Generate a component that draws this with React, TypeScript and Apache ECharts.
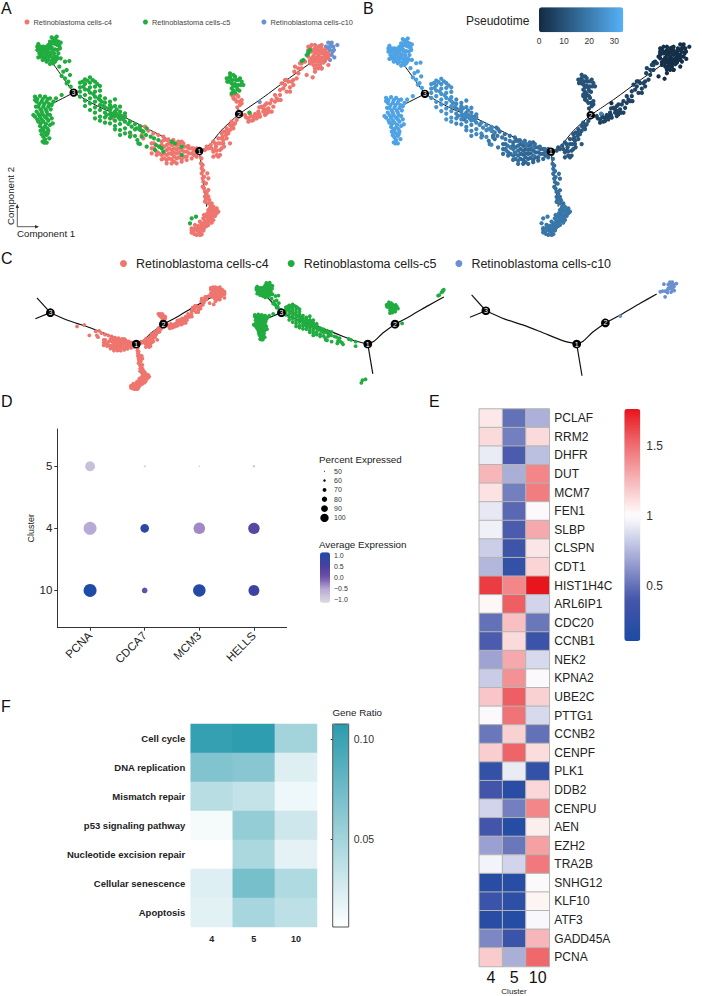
import React, { useEffect, useRef } from "react";
import * as echarts from "echarts";

const FONT = "Liberation Sans";
const C4 = "#EE766F";
const C5 = "#21AC40";
const C10 = "#6A90CF";
const NAME4 = "Retinoblastoma cells-c4";
const NAME5 = "Retinoblastoma cells-c5";
const NAME10 = "Retinoblastoma cells-c10";

// Trajectory cells, component coordinates
const c5TopLeft = [[115,132],[122,140],[112,150],[118,160],[128,150],[135,143],[145,135],[150,125],[160,120],[170,110],[175,125],[165,132],[155,142],[143,150],[132,158],[122,170],[128,180],[140,185],[150,192],[160,190],[168,180],[158,175],[148,170],[138,170],[150,158],[162,160],[172,150],[178,138],[165,148],[182,128],[130,170],[115,172],[170,170],[140,160],[155,130],[125,162],[120,150],[130,140],[140,140],[150,135],[160,128],[168,122],[172,135],[158,150],[148,145],[138,150],[128,165],[135,178],[145,180],[155,183],[163,170],[175,160],[152,165],[142,168],[125,150],[118,145],[112,140],[165,185],[172,175],[180,145],[155,112],[165,115]];
const c5TopSpill = [[182,175],[195,185],[208,183],[178,200],[190,215],[200,210],[185,228],[195,235],[210,225],[205,245],[212,260],[200,250]];
const c5Left = [[105,290],[120,288],[135,290],[150,295],[160,305],[110,305],[125,305],[140,305],[155,315],[145,320],[130,320],[115,320],[110,335],[125,335],[140,335],[105,350],[120,350],[135,350],[150,345],[115,365],[130,365],[145,362],[120,378],[135,380],[150,375],[130,392],[145,392],[125,403],[140,405],[135,418],[133,428],[148,415],[168,295],[185,285],[158,370],[155,355],[108,320],[122,392],[112,297],[128,297],[143,297],[118,312],[133,312],[148,312],[122,328],[137,328],[152,328],[116,343],[128,343],[143,343],[112,358],[125,358],[140,355],[122,370],[138,372],[128,385],[142,385],[135,398],[130,410],[143,400],[128,425],[140,428],[100,345],[105,300]];
const c5DiagNear = [[240,248],[240,262],[240,275],[240,290],[255,238],[255,252],[255,268],[255,285],[255,302],[255,318],[270,232],[270,248],[270,262],[270,278],[270,295],[270,310],[270,330],[285,245],[285,260],[285,275],[285,290],[285,305],[285,322],[285,338],[285,355],[300,258],[300,272],[300,288],[300,300],[300,315],[300,330],[300,350],[300,362],[295,295],[280,282],[265,270],[250,260],[262,242],[278,240],[292,252],[248,245]];
const c5DiagFar = [[315,295],[315,308],[315,322],[315,338],[315,352],[315,368],[330,305],[330,315],[330,330],[330,342],[330,355],[330,370],[345,298],[345,318],[345,335],[345,348],[345,362],[345,378],[345,388],[360,320],[360,335],[360,345],[360,358],[360,372],[360,390],[360,405],[375,340],[375,350],[375,365],[375,385],[375,400],[390,365],[390,398],[390,410],[405,372],[405,388],[405,408],[420,378],[420,390],[420,432],[325,325],[335,322],[340,340],[350,342],[355,352],[365,350],[370,358],[335,350],[320,345],[310,318],[305,305],[350,328],[385,372],[395,380],[410,385],[425,392],[748,338]];
const c5Mixed = [[430,395],[438,405],[425,410],[440,385],[452,410],[462,415],[475,420],[468,435],[478,440],[465,450],[485,445],[490,455],[525,430],[545,440],[545,465],[515,425],[415,430],[440,440],[412,420]];
const c4Mixed = [[370,347],[338,355],[392,405],[420,382],[435,380],[445,392],[430,415],[425,405],[460,400],[475,405],[490,410],[505,418],[520,420],[535,425],[550,430],[565,438],[580,445],[455,430],[455,445],[455,460],[470,455],[470,465],[485,425],[485,435],[485,465],[485,478],[500,420],[500,435],[500,450],[500,465],[500,480],[500,490],[492,420],[492,440],[492,460],[492,475],[477,440],[477,460],[462,430],[462,445]];
const c4NearNode1 = [[515,435],[515,450],[515,462],[515,478],[515,490],[530,435],[530,448],[530,460],[530,475],[530,490],[545,425],[545,450],[545,478],[545,485],[560,440],[560,455],[560,470],[560,480],[575,445],[575,460],[575,475],[590,445],[590,458],[590,470],[507,430],[507,445],[507,460],[507,475],[522,432],[522,445],[522,458],[522,470],[522,485],[537,432],[537,445],[537,458],[537,472],[552,440],[552,455],[552,470],[567,445],[567,460],[582,452],[582,465]];
const c4Node12 = [[625,445],[640,425],[648,440],[655,415],[662,430],[640,455],[650,465],[660,450],[670,420],[678,405],[690,390],[700,375],[710,360],[665,400],[680,385],[695,365],[690,430],[672,440],[655,470],[635,445],[680,415],[700,385],[615,450],[645,450],[668,410],[632,435],[645,430],[655,430],[650,452],[665,445],[670,430],[640,470],[660,465],[620,440],[672,395],[685,400],[695,380],[705,370],[690,375],[715,350],[665,415],[680,395]];
const c4Upper = [[715,290],[700,295],[725,300],[710,305],[695,285],[720,315],[712,322],[705,298],[718,305],[702,285],[712,285],[725,310]];
const c5Upper = [[690,235],[680,235],[695,250],[708,240],[690,220],[710,260],[695,265],[715,255],[725,245],[700,272],[718,272],[730,255],[695,280],[705,230],[720,235],[705,252],[688,245],[698,240],[700,258],[712,268],[705,278],[690,230],[682,245],[722,255],[715,240],[700,225]];
const c4Node2Tip = [[735,345],[750,340],[745,355],[760,350],[770,345],[760,360],[775,335],[785,320],[790,335],[780,350],[800,310],[805,325],[815,300],[800,340],[820,320],[830,295],[815,335],[840,285],[850,265],[835,300],[860,275],[865,245],[855,240],[870,262],[880,255],[845,250],[890,235],[895,220],[885,200],[900,190],[905,205],[738,352],[752,348],[765,342],[778,342],[770,355],[790,325],[795,315],[810,310],[825,305],[808,335],[795,345],[825,285],[840,270],[855,255],[875,245],[860,240],[905,190],[915,185],[895,205],[883,215],[725,345],[745,365],[755,362],[798,330],[778,322],[842,300],[870,275],[880,240]];
const c4Tip = [[925,140],[935,135],[945,145],[955,150],[965,145],[975,150],[985,160],[935,155],[945,160],[955,165],[965,160],[975,165],[985,175],[925,170],[935,175],[945,178],[955,180],[965,178],[975,180],[940,195],[950,195],[960,195],[930,190],[945,205],[938,232],[965,205],[920,225],[932,150],[940,150],[950,155],[960,155],[970,155],[980,158],[940,168],[950,172],[960,172],[970,172],[980,172],[930,182],[940,185],[950,185],[960,187],[970,188],[985,168],[925,150],[945,135],[930,142],[955,140],[965,135],[955,205],[985,195],[945,215]];
const c5Tip = [[925,155],[930,150],[920,165],[910,180],[905,183],[925,160]];
const c10Tip = [[779,306],[960,138],[985,128],[995,128],[1000,140],[1012,135],[990,150],[1002,150],[985,160],[995,165],[1003,172],[975,170],[990,180],[975,183],[965,175],[955,175],[965,205],[945,178],[978,140],[993,135],[985,145],[990,140],[998,155],[978,160]];
const c4Bottom = [[603,490],[605,505],[608,495],[605,520],[612,530],[622,520],[610,545],[618,550],[625,535],[608,560],[615,575],[625,570],[615,590],[625,590],[635,610],[625,610],[615,605],[628,600],[618,598],[620,580],[612,565],[608,535],[604,475],[602,460],[610,512]];
const c4BottomEnd = [[645,628],[635,630],[625,630],[650,640],[640,645],[630,645],[620,650],[610,655],[640,660],[630,660],[620,665],[610,670],[600,665],[625,675],[615,680],[605,680],[595,678],[585,675],[575,685],[580,695],[590,690],[600,695],[610,692],[590,705],[605,703],[575,698],[650,625],[640,635],[630,638],[650,632],[645,648],[635,652],[625,655],[615,662],[605,672],[595,685],[585,685],[605,688],[615,672],[625,665],[635,668],[620,678],[600,705],[583,702],[640,620],[632,620],[630,625],[622,640],[612,645],[595,695],[612,685],[575,690],[655,635]];
const c5Bottom = [[575,655],[588,650],[570,670]];

// [cells, cluster, pseudotime]
const cellGroups: [number[][], string, number][] = [
  [c10Tip, NAME10, 1],
  [c4Tip, NAME4, 1],
  [c5Tip, NAME5, 2],
  [c4Node2Tip, NAME4, 6],
  [c4Upper, NAME4, 9],
  [c5Upper, NAME5, 10],
  [c4Node12, NAME4, 11],
  [c4NearNode1, NAME4, 15],
  [c4Mixed, NAME4, 17],
  [c5Mixed, NAME5, 19],
  [c5DiagFar, NAME5, 23],
  [c5DiagNear, NAME5, 26],
  [c5TopSpill, NAME5, 29],
  [c5TopLeft, NAME5, 30],
  [c5Left, NAME5, 30],
  [c4Bottom, NAME4, 17],
  [c4BottomEnd, NAME4, 19],
  [c5Bottom, NAME5, 20],
];

const trajectoryBranches = [
  [[221,278],[162,195]],
  [[221,278],[155,312]],
  [[221,278],[300,322],[380,355],[460,395],[540,435],[598,453]],
  [[598,453],[625,438],[665,390],[717,342]],
  [[717,342],[712,320]],
  [[717,342],[790,292],[860,240],[930,190]],
  [[598,453],[620,620]],
];
const stateNodes = [[598,453,"1"],[717,342,"2"],[221,278,"3"]];

// Panel D
const dotGenes = ["PCNA", "CDCA7", "MCM3", "HELLS"];
const dotClusters = ["10", "4", "5"];
const dotPercent = [[100, 68, 98, 91], [100, 81, 93.5, 93], [86, 52, 50, 55]];
const dotExpression = [[1.1, 0.1, 1.0, 0.7], [-0.55, 0.9, -0.35, 0.3], [-0.8, -1.0, -1.0, -1.0]];
const percentLegend = [50, 60, 70, 80, 90, 100];

// Panel E
const heatGenes = ["PCLAF","RRM2","DHFR","DUT","MCM7","FEN1","SLBP","CLSPN","CDT1","HIST1H4C","ARL6IP1","CDC20","CCNB1","NEK2","KPNA2","UBE2C","PTTG1","CCNB2","CENPF","PLK1","DDB2","CENPU","AEN","EZH2","TRA2B","SNHG12","KLF10","ATF3","GADD45A","PCNA"];
const heatClusters = ["4", "5", "10"];
const heat4 = [1.08,1.13,0.93,1.25,1.1,0.92,0.95,0.83,0.75,1.65,1.03,0.5,0.42,0.68,0.82,1.2,1.0,0.52,1.17,0.27,0.38,0.85,0.38,0.67,0.96,0.2,0.33,0.2,0.58,1.18];
const heat5 = [0.5,0.55,0.42,0.72,0.55,0.47,0.42,0.35,0.27,1.42,1.55,1.22,1.13,1.3,1.38,1.55,1.48,1.16,1.53,0.93,0.2,0.55,0.17,0.52,0.85,0.18,0.23,0.17,0.33,0.72];
const heat10 = [0.73,1.13,0.78,1.42,1.45,1.0,1.3,1.09,1.15,1.76,0.85,0.52,0.33,0.87,1.0,1.16,0.87,0.5,1.12,0.27,1.14,1.42,1.06,1.33,1.46,1.0,1.04,0.98,1.25,1.52];

// Panel F
const pathways = ["Cell cycle","DNA replication","Mismatch repair","p53 signaling pathway","Nucleotide excision repair","Cellular senescence","Apoptosis"];
const pathClusters = ["4", "5", "10"];
const path4 = [0.103,0.066,0.04,0.011,0.006,0.022,0.02];
const path5 = [0.106,0.063,0.034,0.057,0.046,0.071,0.048];
const path10 = [0.05,0.022,0.014,0.03,0.019,0.044,0.038];

function hex(c: string) { return [1, 3, 5].map((i) => parseInt(c.slice(i, i + 2), 16)); }
function ramp(stops: [number, string][], n: number) {
  const out: string[] = [];
  for (let i = 0; i < n; i++) {
    const t = i / (n - 1);
    let k = 0;
    while (k < stops.length - 2 && t > stops[k + 1][0]) k++;
    const [a, ca] = stops[k];
    const [b, cb] = stops[k + 1];
    const f = (t - a) / (b - a);
    const A = hex(ca), B = hex(cb);
    out.push("rgb(" + A.map((v, j) => Math.round(v + (B[j] - v) * f)).join(",") + ")");
  }
  return out;
}

const hiddenAxes = (g: number, left: number, top: number, w: number, h: number) => ({
  grid: { left, top, width: w, height: h },
  x: { type: "value", gridIndex: g, min: 0, max: 1050, show: false },
  y: { type: "value", gridIndex: g, min: 0, max: 735, inverse: true, show: false },
});

function buildOption() {
  const grids: any[] = [], xAxes: any[] = [], yAxes: any[] = [], series: any[] = [];
  const addTrajectory = (g: number, nodeSize: number, font: number, width: number) => {
    trajectoryBranches.forEach((b) =>
      series.push({ type: "line", xAxisIndex: g, yAxisIndex: g, data: b, smooth: 0.25, symbol: "none", silent: true, z: 1,
        lineStyle: { color: "#111", width } }));
    series.push({ type: "scatter", xAxisIndex: g, yAxisIndex: g, data: stateNodes, symbolSize: nodeSize, z: 6, silent: true,
      itemStyle: { color: "#000", opacity: 1 },
      label: { show: true, position: "inside", formatter: (p: any) => p.value[2], color: "#fff", fontSize: font, fontFamily: FONT } });
  };
  const addCluster = (g: number, name: string, color: string, size: number) => {
    const pts = cellGroups.filter((c) => c[1] === name).flatMap((c) => c[0]);
    series.push({ type: "scatter", name, xAxisIndex: g, yAxisIndex: g, data: pts, symbolSize: size, silent: true, z: 2,
      clip: false, itemStyle: { color, opacity: 1 } });
  };
  const addPanel = (left: number, top: number, w: number, h: number) => {
    const g = grids.length;
    const a = hiddenAxes(g, left, top, w, h);
    grids.push(a.grid); xAxes.push(a.x); yAxes.push(a.y);
    return g;
  };

  // A
  const gA = addPanel(0, 0, 350, 245);
  addCluster(gA, NAME10, C10, 4.3);
  addCluster(gA, NAME4, C4, 4.3);
  addCluster(gA, NAME5, C5, 4.3);
  addTrajectory(gA, 8.3, 6.5, 1);

  // B
  const gB = addPanel(351, 2.2, 361, 242.5);
  const bIndex = series.length;
  series.push({ type: "scatter", xAxisIndex: gB, yAxisIndex: gB, silent: true, z: 2, symbolSize: 4.3, clip: false,
    itemStyle: { opacity: 1 },
    data: cellGroups.flatMap((c) => c[0].map((p) => [p[0], p[1], c[2]])), encode: { x: 0, y: 1 } });
  addTrajectory(gB, 8.3, 6.5, 1);

  // C
  const gC1 = addPanel(-1.2, 262.9, 240.5, 131.6);
  addCluster(gC1, NAME4, C4, 3.8);
  addTrajectory(gC1, 8.7, 7, 1.2);
  const gC2 = addPanel(230.8, 262.9, 240.5, 131.6);
  addCluster(gC2, NAME5, C5, 3.8);
  addTrajectory(gC2, 8.7, 7, 1.2);
  const gC3 = addPanel(432.6, 257.9, 253, 139.7);
  addCluster(gC3, NAME10, C10, 3.8);
  addTrajectory(gC3, 8.7, 7, 1.2);

  // D
  const axisText = { color: "#222", fontFamily: FONT };
  const gD = grids.length;
  grids.push({ left: 57.3, top: 429, width: 229.4, height: 198.7 });
  xAxes.push({ type: "value", gridIndex: gD, min: 0.4, max: 4.6, splitLine: { show: false },
    axisLine: { show: true, lineStyle: { color: "#333", width: 1 } },
    axisTick: { show: true, length: 3, customValues: [1, 2, 3, 4], lineStyle: { color: "#333" } },
    axisLabel: { ...axisText, fontSize: 11.5, rotate: 45, margin: 6, customValues: [1, 2, 3, 4], formatter: (v: number) => dotGenes[v - 1] } });
  yAxes.push({ type: "value", gridIndex: gD, min: 0.4, max: 3.6, splitLine: { show: false },
    name: "Cluster", nameLocation: "middle", nameGap: 21, nameTextStyle: { ...axisText, fontSize: 9 },
    axisLine: { show: true, lineStyle: { color: "#333", width: 1 } },
    axisTick: { show: true, length: 3, customValues: [1, 2, 3], lineStyle: { color: "#333" } },
    axisLabel: { ...axisText, fontSize: 11.5, margin: 5, customValues: [1, 2, 3], formatter: (v: number) => dotClusters[v - 1] } });
  const dIndex = series.length;
  const dotDiameter = (pct: number) => 1.5 + (pct - 50) * 0.23;
  series.push({ type: "scatter", xAxisIndex: gD, yAxisIndex: gD, silent: true, itemStyle: { opacity: 1 },
    data: dotClusters.flatMap((_, r) => dotGenes.map((_g, c) => [c + 1, r + 1, dotExpression[r][c], dotPercent[r][c]])),
    symbolSize: (v: number[]) => dotDiameter(v[3]), encode: { x: 0, y: 1 } });

  // D size legend
  const gL = grids.length;
  grids.push({ left: 318, top: 466.6, width: 13, height: 56 });
  xAxes.push({ type: "value", gridIndex: gL, min: 0, max: 2, show: false });
  yAxes.push({ type: "category", gridIndex: gL, position: "right", inverse: true, data: percentLegend.map(String),
    axisLine: { show: false }, axisTick: { show: false },
    axisLabel: { ...axisText, color: "#333", fontSize: 7, margin: 3, interval: 0 } });
  series.push({ type: "scatter", xAxisIndex: gL, yAxisIndex: gL, silent: true,
    data: percentLegend.map((p) => [1, String(p), p]), symbolSize: (v: any[]) => dotDiameter(v[2]) * 0.64,
    itemStyle: { color: "#000", opacity: 1 } });

  // Colour bar axes
  const cbarAxis = (g: number, min: number, max: number, ticks: number[], fmt: (v: number) => string, font: number, margin: number, tick: any) => {
    xAxes.push({ type: "value", gridIndex: g, min: 0, max: 1, show: false });
    yAxes.push({ type: "value", gridIndex: g, position: "right", min, max, splitLine: { show: false }, axisLine: { show: false },
      axisTick: { ...tick, customValues: ticks },
      axisLabel: { ...axisText, color: "#333", fontSize: font, margin, customValues: ticks, formatter: fmt } });
  };
  const gDc = grids.length;
  grids.push({ left: 320, top: 552.3, width: 10, height: 50.4 });
  cbarAxis(gDc, -1.155, 1.136, [-1, -0.5, 0, 0.5, 1], (v) => v.toFixed(1).replace("-", "\u2212"), 7, 4, { show: false });

  // E
  const gE = grids.length;
  grids.push({ left: 479.3, top: 409, width: 70, height: 557.5 });
  xAxes.push({ type: "category", gridIndex: gE, data: heatClusters, axisLine: { show: false }, axisTick: { show: false },
    axisLabel: { color: "#111", fontFamily: FONT, fontSize: 16, margin: 3, interval: 0, hideOverlap: false } });
  yAxes.push({ type: "category", gridIndex: gE, position: "right", inverse: true, data: heatGenes, axisLine: { show: false }, axisTick: { show: false },
    axisLabel: { color: "#222", fontFamily: FONT, fontSize: 12, margin: 5, interval: 0 } });
  const eIndex = series.length;
  series.push({ type: "heatmap", xAxisIndex: gE, yAxisIndex: gE, silent: true,
    data: heatGenes.flatMap((_, r) => [heat4[r], heat5[r], heat10[r]].map((v, c) => [c, r, v])),
    itemStyle: { borderColor: "#b4b4b4", borderWidth: 1 } });
  const gEc = grids.length;
  grids.push({ left: 624.3, top: 409, width: 16, height: 232 });
  cbarAxis(gEc, 0.107, 1.764, [0.5, 1, 1.5], (v) => String(v), 12, 6, { show: false });

  // F
  const gF = grids.length;
  grids.push({ left: 190.7, top: 724, width: 126.3, height: 203 });
  xAxes.push({ type: "category", gridIndex: gF, data: pathClusters, axisLine: { show: false }, axisTick: { show: false },
    axisLabel: { color: "#222", fontFamily: FONT, fontSize: 9, fontWeight: "bold", margin: 7, interval: 0 } });
  yAxes.push({ type: "category", gridIndex: gF, inverse: true, data: pathways, axisLine: { show: false }, axisTick: { show: false },
    axisLabel: { color: "#222", fontFamily: FONT, fontSize: 9.5, fontWeight: "bold", margin: 5.5, interval: 0 } });
  const fIndex = series.length;
  series.push({ type: "heatmap", xAxisIndex: gF, yAxisIndex: gF, silent: true,
    data: pathways.flatMap((_, r) => [path4[r], path5[r], path10[r]].map((v, c) => [c, r, v])) });
  const gFc = grids.length;
  grids.push({ left: 332.7, top: 724, width: 16, height: 203 });
  const fTicks = [0.05, 0.1];
  cbarAxis(gFc, 0.006, 0.1077, fTicks, (v) => v.toFixed(2), 10.5, 5, { show: true, inside: true, length: 2, lineStyle: { color: "#333" } });
  yAxes.push({ type: "value", gridIndex: gFc, position: "left", min: 0.006, max: 0.1077, splitLine: { show: false }, axisLine: { show: false },
    axisTick: { show: true, inside: true, length: 2, customValues: fTicks, lineStyle: { color: "#333" } }, axisLabel: { show: false } });

  // Pseudotime bar
  const gP = grids.length;
  grids.push({ left: 539, top: 7.3, width: 84.3, height: 25 });
  const pTicks = [0, 10, 20, 30];
  xAxes.push({ type: "value", gridIndex: gP, min: 0, max: 33.6, splitLine: { show: false }, axisLine: { show: false },
    axisTick: { show: true, inside: true, length: 4, customValues: pTicks, lineStyle: { color: "#fff", width: 0.6 } },
    axisLabel: { ...axisText, color: "#333", fontSize: 8.5, margin: 4, customValues: pTicks, formatter: (v: number) => String(v) } });
  xAxes.push({ type: "value", gridIndex: gP, position: "top", min: 0, max: 33.6, splitLine: { show: false }, axisLine: { show: false },
    axisTick: { show: true, inside: true, length: 4, customValues: pTicks, lineStyle: { color: "#fff", width: 0.6 } },
    axisLabel: { show: false } });
  yAxes.push({ type: "value", gridIndex: gP, min: 0, max: 1, show: false });

  const vmBase = { show: true, calculable: false, padding: 0, hoverLink: false, realtime: false };
  const visualMap = [
    { ...vmBase, seriesIndex: bIndex, dimension: 2, min: 0, max: 33.6, orient: "horizontal", left: 539, top: 7.3, itemWidth: 25, itemHeight: 84.3,
      inRange: { color: ["#132B43", "#56B1F7"] } },
    { ...vmBase, seriesIndex: dIndex, dimension: 2, min: -1.155, max: 1.136, left: 320, top: 552.3, itemWidth: 10, itemHeight: 50.4,
      inRange: { color: ramp([[0, "#dcdcde"], [0.27, "#b9a9d5"], [0.5, "#6f52a9"], [0.72, "#4a3fa0"], [1, "#1c4ca8"]], 16) } },
    { ...vmBase, seriesIndex: eIndex, dimension: 2, min: 0.107, max: 1.764, left: 624.3, top: 409, itemWidth: 16, itemHeight: 232,
      inRange: { color: ramp([[0, "#1d4aa3"], [0.18, "#4556aa"], [0.36, "#a5aad6"], [0.539, "#ffffff"], [0.72, "#f6a9ac"], [0.87, "#ee5f63"], [1, "#e8141c"]], 41) } },
    { ...vmBase, seriesIndex: fIndex, dimension: 2, min: 0.006, max: 0.1077, left: 332.7, top: 724, itemWidth: 16, itemHeight: 203,
      inRange: { color: ["#ffffff", "#2a9bae"] } },
  ];

  const t = (text: string, x: number, y: number, fontSize: number, extra: any = {}) => ({
    type: "text", x, y, silent: true, z: 50,
    style: { text, fontSize, fontFamily: FONT, fill: "#222", verticalAlign: "middle", ...extra },
  });
  const arrow = "#333";
  const graphic = [
    t("A", 1, 8, 16, { fill: "#111" }),
    t("B", 363, 8, 16, { fill: "#111" }),
    t("C", 1, 258, 16, { fill: "#111" }),
    t("D", 1, 401, 16, { fill: "#111" }),
    t("E", 429, 401, 16, { fill: "#111" }),
    t("F", 1, 706, 16, { fill: "#111" }),
    t("Pseudotime", 466, 20.5, 12),
    t("Component 1", 17, 233, 9.7),
    { ...t("Component 2", 10, 196, 9.7, { align: "center" }), rotation: Math.PI / 2 },
    t("Percent Expressed", 319, 459, 9.8),
    t("Average Expression", 319, 544, 9.8),
    t("Gene Ratio", 332.5, 712, 9.8),
    t("Cluster", 514, 991, 8, { align: "center" }),
    { type: "line", silent: true, z: 50, shape: { x1: 17.3, y1: 226.7, x2: 17.3, y2: 205 }, style: { stroke: arrow, lineWidth: 0.8 } },
    { type: "line", silent: true, z: 50, shape: { x1: 17.3, y1: 226.7, x2: 38, y2: 226.7 }, style: { stroke: arrow, lineWidth: 0.8 } },
    { type: "polygon", silent: true, z: 50, shape: { points: [[17.3, 204], [15.6, 208], [19, 208]] }, style: { fill: arrow } },
    { type: "polygon", silent: true, z: 50, shape: { points: [[39, 226.7], [35, 225], [35, 228.4]] }, style: { fill: arrow } },
    { type: "rect", silent: true, z: 50, shape: { x: 332.7, y: 724, width: 16, height: 203 }, style: { fill: "none", stroke: "#555", lineWidth: 1 } },
  ];

  const legendBase = { icon: "circle", selectedMode: false, orient: "horizontal", padding: 0 };
  return {
    animation: false,
    backgroundColor: "#fff",
    grid: grids, xAxis: xAxes, yAxis: yAxes, series, visualMap, graphic,
    legend: [
      { ...legendBase, left: 24.5, top: 18.5, itemWidth: 5, itemHeight: 5, itemGap: 31, data: [NAME4, NAME5, NAME10],
        textStyle: { fontFamily: FONT, fontSize: 7.4, color: "#444", padding: [0, 0, 0, -1] } },
      { ...legendBase, left: 120, top: 257, itemWidth: 7, itemHeight: 7, itemGap: 19, data: [NAME4, NAME5, NAME10],
        textStyle: { fontFamily: FONT, fontSize: 12.5, color: "#222", padding: [0, 0, 0, 4] } },
    ],
  };
}

export default function App() {
  const ref = useRef<HTMLDivElement>(null);
  useEffect(() => {
    document.body.style.margin = "0";
    const chart = echarts.init(ref.current!, undefined, { renderer: "svg" });
    chart.setOption(buildOption() as any);
    return () => chart.dispose();
  }, []);
  return <div ref={ref} style={{ width: 702, height: 996 }} />;
}
